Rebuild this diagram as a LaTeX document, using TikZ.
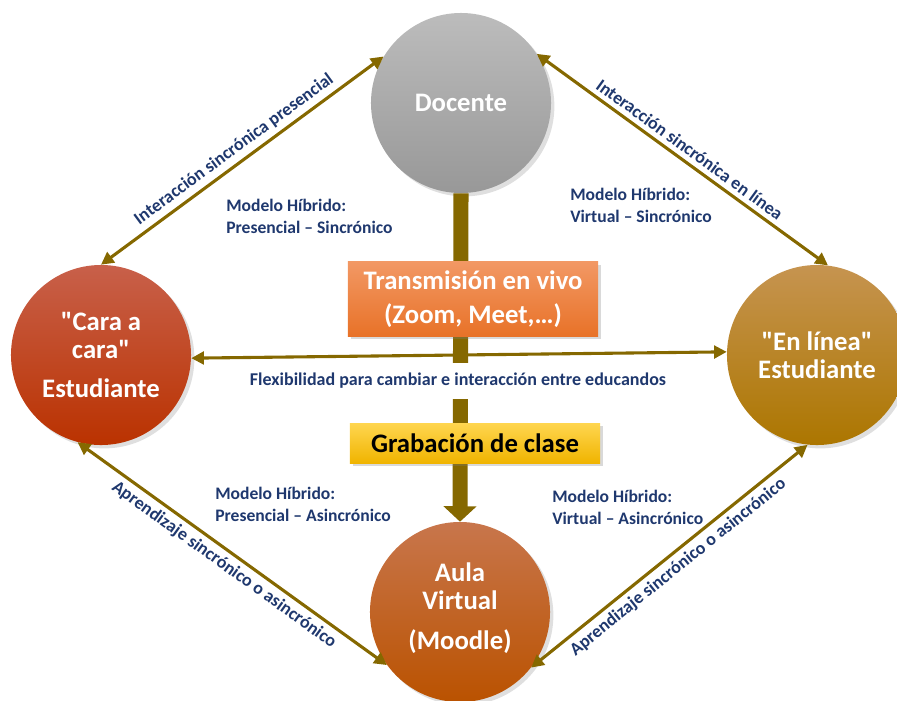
\documentclass[tikz,border=0pt]{standalone}
\usepackage{fontspec}
\setmainfont{Carlito}[Ligatures=TeXOff]
\usetikzlibrary{arrows.meta, positioning, shadows}
\definecolor{arrowolive}{RGB}{133,104,0}
\definecolor{labelblue}{RGB}{31,56,110}
\definecolor{docentetop}{RGB}{188,188,188}
\definecolor{docentebottom}{RGB}{152,152,152}
\definecolor{caratop}{RGB}{200,96,74}
\definecolor{carabottom}{RGB}{186,50,0}
\definecolor{lineatop}{RGB}{198,148,80}
\definecolor{lineabottom}{RGB}{172,118,0}
\definecolor{aulatop}{RGB}{200,118,76}
\definecolor{aulabottom}{RGB}{186,82,0}
\definecolor{transtop}{RGB}{242,152,100}
\definecolor{transbottom}{RGB}{232,114,40}
\definecolor{grabtop}{RGB}{255,214,80}
\definecolor{grabbottom}{RGB}{240,180,0}

\begin{document}
\begin{tikzpicture}[
				x=0.025cm, y=-0.025cm,
				actor/.style={circle, minimum size=4.5cm, inner sep=0pt, align=center, text=white, font=\fontsize{19}{20}\selectfont\bfseries, drop shadow={opacity=0.25}},
				medium/.style={rectangle, minimum width=6.25cm, align=center, font=\fontsize{19}{24}\selectfont\bfseries, drop shadow={opacity=0.3}},
				model/.style={anchor=west, inner sep=0pt, align=left, text=labelblue, font=\fontsize{12.5}{15.5}\selectfont\bfseries},
				linklabel/.style={sloped, text=labelblue, font=\fontsize{12.8}{14}\selectfont\bfseries},
				arrow/.style={<->, >={Triangle[length=9pt,width=9pt]}, line width=2.2pt, color=arrowolive},
				bar/.style={-{Triangle[length=11pt,width=23pt]}, line width=10.7pt, color=arrowolive}
			]
			\useasboundingbox (0,0) rectangle (897,700);

			% Actors
			\node (docente) [actor, top color=docentetop, bottom color=docentebottom] at (461,103) {Docente};
			\node (cara) [actor, top color=caratop, bottom color=carabottom] at (101,355) {"Cara a\\cara"\\[8pt]Estudiante};
			\node (enlinea) [actor, top color=lineatop, bottom color=lineabottom] at (817,355) {"En línea"\\Estudiante};
			\node (aula) [actor, top color=aulatop, bottom color=aulabottom] at (460,612) {};
			\node (aulatext) [text=white, align=center, font=\fontsize{19}{20}\selectfont\bfseries] at (460,608) {Aula\\Virtual\\[8pt](Moodle)};

			% Central flow
			\draw [bar] (docente.south) -- (aula.north);
			\node (trans) [medium, minimum height=1.85cm, top color=transtop, bottom color=transbottom, text=white] at (473,299) {Transmisión en vivo\\(Zoom, Meet,…)};
			\node (flex) [fill=white, minimum height=25pt, text=labelblue, font=\fontsize{12.8}{14}\selectfont\bfseries] at (458,381) {Flexibilidad para cambiar e interacción entre educandos};
			\node (grab) [medium, minimum height=1cm, top color=grabtop, bottom color=grabbottom] at (475,443) {Grabación de clase};

			% Links between actors
			\draw [arrow] (cara.90) -- node[linklabel, above] {Interacción sincrónica presencial} (docente.149);
			\draw [arrow] (docente.33) -- node[linklabel, above] {Interacción sincrónica en línea} (enlinea.83);
			\draw [arrow] (cara.255) -- node[linklabel, below] {Aprendizaje sincrónico o asincrónico} (aula.216);
			\draw [arrow] (aula.322) -- node[linklabel, below] {Aprendizaje sincrónico o asincrónico} (enlinea.264);
			\draw [arrow] (cara.-2) -- (enlinea.178);

			% Hybrid models
			\node (ps) [model] at (226,216) {Modelo Híbrido:\\Presencial – Sincrónico};
			\node (vs) [model] at (570,205) {Modelo Híbrido:\\Virtual – Sincrónico};
			\node (pa) [model] at (215,504) {Modelo Híbrido:\\Presencial – Asincrónico};
			\node (va) [model] at (552,507) {Modelo Híbrido:\\Virtual – Asincrónico};

		\end{tikzpicture}
\end{document}
